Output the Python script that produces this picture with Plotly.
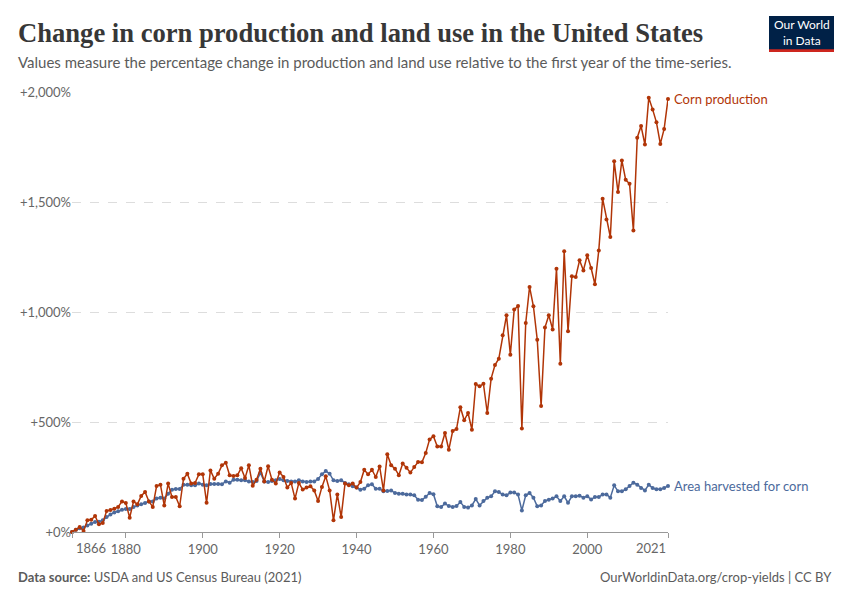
import plotly.graph_objects as go

years = list(range(1866, 2022))

corn_production = [
    0, 10, 23, 5, 53, 56, 73, 35, 41, 95,
    100, 106, 114, 139, 132, 65, 139, 126, 164, 182,
    139, 114, 209, 215, 120, 220, 159, 159, 117, 242,
    265, 220, 223, 262, 262, 133, 280, 242, 265, 303,
    315, 258, 255, 258, 290, 245, 303, 210, 238, 288,
    230, 299, 238, 220, 271, 250, 202, 223, 152, 223,
    193, 202, 208, 189, 141, 205, 253, 189, 53, 171,
    68, 220, 212, 220, 202, 227, 283, 262, 283, 250,
    298, 189, 353, 303, 288, 258, 311, 292, 270, 295,
    318, 317, 359, 421, 435, 389, 389, 450, 374, 459,
    468, 567, 508, 541, 465, 673, 662, 674, 541, 697,
    759, 788, 894, 985, 806, 1011, 1027, 470, 950, 1114,
    1026, 874, 573, 929, 985, 921, 1197, 765, 1276, 912,
    1162, 1159, 1235, 1189, 1258, 1200, 1126, 1280, 1515, 1420,
    1341, 1685, 1545, 1689, 1601, 1583, 1371, 1792, 1845, 1761,
    1974, 1921, 1862, 1764, 1832, 1968,
]

area_harvested = [
    0, 10, 17, 20, 30, 38, 45, 47, 53, 68,
    80, 89, 94, 101, 105, 105, 114, 121, 126, 132,
    139, 139, 152, 156, 152, 174, 192, 195, 195, 215,
    215, 212, 212, 220, 215, 212, 218, 218, 218, 217,
    230, 224, 238, 238, 235, 235, 230, 227, 232, 268,
    230, 227, 232, 235, 241, 235, 232, 230, 229, 235,
    230, 227, 230, 230, 241, 262, 277, 265, 235, 232,
    235, 223, 217, 208, 202, 192, 197, 212, 217, 197,
    197, 185, 186, 189, 177, 174, 174, 171, 170, 167,
    147, 145, 160, 177, 172, 117, 114, 129, 118, 114,
    118, 136, 114, 111, 121, 150, 121, 141, 156, 162,
    185, 182, 170, 167, 179, 179, 170, 98, 167, 177,
    156, 117, 121, 141, 147, 152, 162, 141, 162, 133,
    162, 162, 165, 156, 162, 148, 159, 159, 170, 171,
    156, 212, 185, 185, 194, 209, 224, 215, 200, 189,
    215, 200, 194, 194, 200, 209,
]

y_tick_values = [0, 500, 1000, 1500, 2000]
y_tick_labels = ["+0%", "+500%", "+1,000%", "+1,500%", "+2,000%"]
x_tick_values = [1866, 1880, 1900, 1920, 1940, 1960, 1980, 2000, 2021]
x_tick_labels = ["", "1880", "1900", "1920", "1940", "1960", "1980", "2000", ""]

RED = "#B13507"
BLUE = "#4C6A9C"
FONT = "Lato"
GREY = "#666666"

fig = go.Figure()
fig.add_trace(go.Scatter(
    x=years, y=area_harvested, mode="lines+markers", name="Area harvested for corn",
    line=dict(color=BLUE, width=1.5), marker=dict(color=BLUE, size=4),
    cliponaxis=False, hoverinfo="x+y",
))
fig.add_trace(go.Scatter(
    x=years, y=corn_production, mode="lines+markers", name="Corn production",
    line=dict(color=RED, width=1.5), marker=dict(color=RED, size=4),
    cliponaxis=False, hoverinfo="x+y",
))

fig.update_layout(
    width=850, height=600,
    margin=dict(l=72, r=182, t=92, b=68),
    paper_bgcolor="white", plot_bgcolor="white",
    showlegend=False,
    font=dict(family=FONT, color=GREY, size=13),
    xaxis=dict(
        range=[1866, 2021], tickvals=x_tick_values, ticktext=x_tick_labels,
        showgrid=False, zeroline=False, showline=True, linecolor="#999999", linewidth=1,
        ticks="outside", ticklen=5, tickcolor="#999999",
        tickfont=dict(family=FONT, size=13, color=GREY),
    ),
    yaxis=dict(
        range=[0, 2000], tickvals=y_tick_values, ticktext=y_tick_labels,
        showgrid=True, gridcolor="#dddddd", griddash="dash", gridwidth=1,
        zeroline=False, showline=False, ticks="",
        tickfont=dict(family=FONT, size=13, color=GREY),
    ),
)

LEFT = (16 - 72) / 596

annotations = [
    dict(text="<b>Change in corn production and land use in the United States</b>",
         xref="paper", yref="paper", x=LEFT, y=1 + (92-16)/440, xanchor="left", yanchor="top",
         showarrow=False, font=dict(family="Liberation Serif", size=26.6, color="#373737")),
    dict(text="Values measure the percentage change in production and land use relative to the first year of the time-series.",
         xref="paper", yref="paper", x=LEFT, y=1 + (92-51)/440, xanchor="left", yanchor="top",
         showarrow=False, font=dict(family=FONT, size=15, color="#5b5b5b")),
    dict(text="<b>Data source:</b> USDA and US Census Bureau (2021)",
         xref="paper", yref="paper", x=LEFT, y=-(577-532)/440, xanchor="left", yanchor="middle",
         showarrow=False, font=dict(family=FONT, size=13, color="#5b5b5b")),
    dict(text="OurWorldinData.org/crop-yields | CC BY",
         xref="paper", yref="paper", x=(834-72)/596, y=-(577-532)/440, xanchor="right", yanchor="middle",
         showarrow=False, font=dict(family=FONT, size=13, color="#5b5b5b")),
    dict(text="1866", xref="x", yref="paper", x=years[0], y=0, xanchor="left", yanchor="top",
         yshift=-6, xshift=2, showarrow=False, font=dict(family=FONT, size=13, color=GREY)),
    dict(text="2021", xref="x", yref="paper", x=years[-1], y=0, xanchor="right", yanchor="top",
         yshift=-6, showarrow=False, font=dict(family=FONT, size=13, color=GREY)),
    dict(text="Corn production", xref="paper", yref="y", x=1, y=corn_production[-1],
         xanchor="left", yanchor="middle", xshift=4, showarrow=False,
         font=dict(family=FONT, size=13, color=RED)),
    dict(text="Area harvested for corn", xref="paper", yref="y", x=1, y=area_harvested[-1],
         xanchor="left", yanchor="middle", xshift=4, showarrow=False,
         font=dict(family=FONT, size=13, color=BLUE)),
    dict(text="Our World<br>in Data", xref="paper", yref="paper",
         x=(801.5-72)/596, y=1 + (92-32.5)/440, xanchor="center", yanchor="middle",
         showarrow=False, font=dict(family=FONT, size=12, color="white")),
]
fig.update_layout(annotations=annotations)

fig.add_shape(type="rect", xref="paper", yref="paper",
              x0=(769-72)/596, x1=(834-72)/596, y0=1 + (92-52)/440, y1=1 + (92-16)/440,
              fillcolor="#002147", line=dict(width=0), layer="above")
fig.add_shape(type="rect", xref="paper", yref="paper",
              x0=(769-72)/596, x1=(834-72)/596, y0=1 + (92-52)/440, y1=1 + (92-49.3)/440,
              fillcolor="#CE261E", line=dict(width=0), layer="above")

fig.write_html("out.html", config={"displayModeBar": False},
               post_script="document.body.style.margin='0';")
